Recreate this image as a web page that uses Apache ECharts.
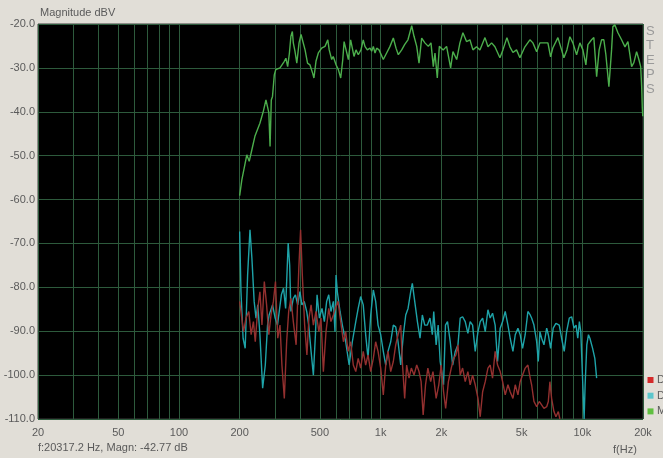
<!DOCTYPE html>
<html><head><meta charset="utf-8">
<script src="https://cdn.jsdelivr.net/npm/echarts@6/dist/echarts.min.js"></script>
<style>html,body{margin:0;padding:0;background:#e1ded7;overflow:hidden}#c{width:663px;height:458px}</style>
</head><body><div id="c"></div>
<script>
// ---- data ----
const xLabelFreqs = [20, 50, 100, 200, 500, 1000, 2000, 5000, 10000, 20000];
const xGridFreqs = [20, 30, 40, 50, 60, 70, 80, 90, 100, 200, 300, 400, 500, 600, 700, 800, 900,
  1000, 2000, 3000, 4000, 5000, 6000, 7000, 8000, 9000, 10000, 20000];
const yMin = -110, yMax = -20, yStep = 10;

const magFreq = [200,205,217,223,229,238,252,262,270,275,279,283,287,291,297,302,317,333,339,346,
  353,359,365,369,376,384,394,403,411,422,434,446,460,467,478,491,510,530,547,556,
  572,582,601,617,634,649,659,674,692,710,721,738,755,775,799,820,836,859,886,903,
  920,938,956,982,1001,1031,1071,1113,1156,1192,1224,1272,1315,1366,1426,1464,1510,1550,1598,1658,
  1724,1777,1825,1860,1910,1955,2043,2124,2224,2284,2383,2473,2559,2667,2772,2869,2990,3107,3292,3407,
  3551,3688,3904,4040,4229,4376,4530,4720,4905,5194,5498,5690,5938,6163,6525,6753,6964,7151,7570,7895,
  8106,8388,8680,8982,9370,9729,10070,10420,10660,11120,11410,11780,12120,12460,12790,13090,13550,13970,14180,14510,
  15020,15660,16280,16840,17220,17560,18020,18590,19080,19480,19700,19840,19950];
const magDb = [-59.1,-55.5,-49.8,-51.3,-49.0,-45.6,-42.6,-39.9,-37.3,-36.9,-40.2,-47.9,-37.3,-36.5,-31.6,-30.4,-30.0,-28.5,-27.8,-29.7,
  -26.6,-22.8,-21.7,-24.3,-26.2,-28.9,-24.3,-22.4,-22.8,-25.9,-28.9,-29.3,-31.2,-32.3,-28.5,-26.6,-25.5,-25.1,-23.6,-25.9,
  -28.1,-27.4,-29.3,-30.4,-32.3,-28.1,-24.0,-25.9,-28.1,-23.6,-23.2,-27.4,-25.9,-27.0,-25.9,-23.6,-25.1,-25.9,-25.5,-26.2,
  -25.1,-26.6,-25.5,-25.9,-26.2,-28.1,-26.6,-25.1,-23.2,-25.5,-27.0,-25.9,-24.7,-23.6,-20.4,-22.8,-25.1,-28.9,-23.2,-24.3,
  -25.1,-24.3,-29.7,-26.6,-32.3,-25.1,-25.9,-25.1,-30.0,-26.3,-28.1,-24.3,-22.0,-24.0,-23.6,-25.9,-25.2,-25.9,-23.1,-25.2,
  -24.3,-25.2,-27.7,-25.9,-23.1,-25.2,-26.5,-25.9,-27.7,-25.2,-23.6,-24.3,-26.3,-24.3,-24.3,-24.3,-27.5,-25.4,-23.1,-25.9,
  -27.7,-25.9,-22.9,-24.3,-27.0,-24.3,-25.9,-29.3,-24.7,-23.6,-23.1,-32.0,-25.9,-23.6,-23.6,-27.0,-34.3,-25.9,-20.6,-20.2,
  -22.0,-23.6,-25.2,-24.0,-27.0,-29.7,-28.8,-26.3,-28.1,-29.7,-34.3,-39.1,-41.0];

const cyanFreq = [200,203,208,213,219,225,230,236,241,246,252,260,268,275,280,291,300,308,322,330,
  338,348,354,359,369,378,388,398,407,418,430,440,452,464,475,484,497,512,526,540,
  553,567,583,594,601,610,629,646,671,698,724,753,774,796,820,843,866,893,920,945,
  971,1001,1031,1060,1088,1122,1156,1188,1220,1258,1296,1332,1368,1410,1436,1476,1522,1568,1610,1655,
  1705,1757,1805,1834,1885,1929,1974,2051,2097,2146,2214,2276,2345,2418,2481,2550,2627,2708,2780,2858,
  2945,3039,3118,3205,3302,3405,3493,3589,3697,3800,3917,4026,4148,4279,4389,4530,4651,4796,4920,5057,
  5210,5373,5517,5606,5758,5940,6050,6163,6284,6455,6660,6785,6964,7175,7401,7686,7895,8136,8362,8620,
  8859,9100,9313,9497,9673,9830,10060,10210,10330,10530,10730,10906,11250,11540,11780];
const cyanDb = [-67.3,-81.0,-91.6,-93.9,-77.2,-66.9,-73.4,-83.2,-87.0,-84.0,-90.8,-103.0,-97.7,-88.6,-86.3,-84.0,-87.0,-88.6,-81.7,-80.2,
  -84.8,-69.9,-74.9,-85.5,-82.5,-81.7,-84.0,-81.0,-84.0,-83.2,-85.5,-88.6,-94.6,-100.0,-90.8,-81.7,-87.0,-84.8,-87.8,-83.2,
  -81.7,-85.5,-83.2,-90.1,-77.2,-81.0,-85.5,-88.6,-92.4,-97.7,-92.4,-87.8,-84.8,-82.1,-84.0,-90.8,-96.2,-86.3,-80.6,-83.2,
  -88.6,-90.8,-94.6,-97.7,-94.6,-92.4,-88.6,-89.0,-92.4,-97.7,-90.8,-86.3,-84.8,-81.0,-79.1,-83.2,-87.8,-91.6,-86.3,-88.6,
  -88.6,-87.0,-90.8,-85.5,-93.1,-88.6,-96.9,-102.2,-88.6,-87.8,-92.4,-97.7,-94.6,-93.1,-87.0,-86.7,-87.8,-90.5,-87.8,-88.6,
  -94.6,-90.1,-87.8,-87.0,-90.1,-85.1,-87.0,-85.9,-88.6,-96.9,-89.3,-87.8,-85.5,-88.6,-91.6,-94.6,-90.8,-89.3,-90.8,-93.9,
  -90.8,-85.5,-86.3,-87.0,-88.6,-92.4,-96.9,-90.1,-91.6,-93.1,-89.3,-90.8,-93.9,-89.3,-88.2,-88.6,-91.6,-94.6,-90.1,-87.0,
  -86.7,-89.3,-88.6,-91.6,-87.8,-90.1,-102.2,-110.0,-102.2,-93.1,-90.8,-91.6,-93.9,-96.2,-100.7];

const redFreq = [200,209,215,222,228,234,239,246,252,258,265,272,279,286,294,301,309,317,324,333,
  342,350,359,369,381,393,401,409,420,431,441,452,464,478,494,506,520,536,553,567,
  583,596,615,634,654,671,690,710,732,753,774,796,820,843,866,893,920,945,971,1001,
  1031,1060,1088,1122,1156,1188,1220,1258,1281,1316,1346,1383,1420,1464,1510,1550,1588,1625,1670,1715,
  1771,1818,1885,1943,1997,2052,2101,2168,2240,2303,2364,2418,2481,2550,2627,2708,2780,2858,2945,3039,
  3118,3205,3302,3405,3493,3589,3697,3800,3917,4026,4148,4279,4389,4530,4651,4796,4920,5057,5210,5373,
  5517,5606,5758,5940,6118,6284,6455,6660,6785,6908,7044,7236,7401,7607,7743];
const redDb = [-83.2,-90.1,-87.0,-85.5,-90.8,-87.8,-92.4,-84.8,-81.0,-88.6,-78.7,-84.0,-90.8,-86.3,-83.2,-78.7,-91.6,-88.6,-97.7,-105.3,
  -92.4,-85.5,-82.5,-87.8,-93.1,-75.6,-66.9,-77.2,-88.6,-95.4,-87.0,-84.0,-88.6,-85.5,-90.1,-87.0,-99.2,-90.1,-84.8,-87.8,
  -86.3,-84.8,-83.2,-87.8,-92.4,-90.1,-94.6,-92.4,-97.7,-99.2,-96.2,-98.4,-94.6,-97.7,-95.4,-99.2,-96.2,-92.4,-94.6,-98.4,
  -104.5,-97.7,-94.6,-99.2,-96.9,-93.1,-90.8,-88.6,-96.9,-105.3,-97.7,-100.7,-98.4,-100.0,-97.7,-99.2,-101.5,-109.1,-102.2,-98.4,
  -101.5,-99.2,-105.3,-102.2,-97.7,-103.8,-107.6,-101.5,-98.4,-96.2,-95.4,-93.1,-100.0,-98.4,-101.5,-99.2,-102.2,-100.0,-102.2,-105.3,
  -109.5,-103.8,-101.5,-98.4,-97.7,-100.7,-94.6,-97.7,-99.2,-101.5,-104.5,-102.2,-103.8,-105.3,-102.2,-104.5,-101.5,-100.0,-98.4,-97.7,
  -100.7,-102.2,-106.0,-107.2,-106.0,-106.8,-107.6,-107.2,-106.0,-101.5,-105.3,-108.3,-109.5,-108.3,-110.0];

const seriesNames = ['D2', 'D3', 'Magnitude'];
const legendColors = ['#d42a2a', '#5cc6cc', '#5fbf3f'];
const titleText = 'Magnitude dBV';
const statusText = 'f:20317.2 Hz, Magn: -42.77 dB';
const xUnitText = 'f(Hz)';
const sideText = 'STEPS';

// ---- chart ----
const lg = v => Math.log10(v);
const toPairs = (fs, ds) => fs.map((f, i) => [lg(f), ds[i]]);
const fmtFreq = v => {
  const f = Math.round(Math.pow(10, v));
  return f >= 1000 ? (f / 1000) + 'k' : String(f);
};
const FONT = '"Liberation Sans", Arial, sans-serif';
const TXT = '#5a5a5a';
const GRID = '#2d5a3c';

const legendGraphics = [];
seriesNames.forEach((n, i) => {
  const cy = 380 + i * 15.7;
  legendGraphics.push({type: 'rect', shape: {x: 647.5, y: cy - 3, width: 6, height: 6}, style: {fill: legendColors[i]}, silent: true});
  legendGraphics.push({type: 'text', x: 657, y: cy, style: {text: n, fill: TXT, font: '11px ' + FONT, verticalAlign: 'middle', align: 'left'}, silent: true});
});

const chart = echarts.init(document.getElementById('c'), null, {renderer: 'canvas'});
chart.setOption({
  animation: false,
  backgroundColor: '#e1ded7',
  grid: {left: 38, top: 24, right: 20, bottom: 39, show: true, backgroundColor: '#000', borderColor: '#3c3c3c', borderWidth: 1, containLabel: false},
  xAxis: {
    type: 'value', min: lg(20), max: lg(20000),
    axisLine: {show: false},
    axisTick: {show: false, customValues: xGridFreqs.map(lg)},
    axisLabel: {customValues: xLabelFreqs.map(lg), formatter: fmtFreq, color: TXT, fontSize: 11, fontFamily: FONT, margin: 8},
    splitLine: {show: true, lineStyle: {color: GRID, width: 1}}
  },
  yAxis: {
    type: 'value', min: yMin, max: yMax, interval: yStep,
    axisLine: {show: false}, axisTick: {show: false},
    axisLabel: {formatter: v => v.toFixed(1), color: TXT, fontSize: 11, fontFamily: FONT, margin: 3},
    splitLine: {show: true, lineStyle: {color: GRID, width: 1}}
  },
  series: [
    {name: seriesNames[1], type: 'line', data: toPairs(cyanFreq, cyanDb), showSymbol: false, silent: true,
      lineStyle: {width: 1.4, color: '#1ea3a8'}, z: 2},
    {name: seriesNames[0], type: 'line', data: toPairs(redFreq, redDb), showSymbol: false, silent: true,
      lineStyle: {width: 1.4, color: '#93302f'}, z: 3},
    {name: seriesNames[2], type: 'line', data: toPairs(magFreq, magDb), showSymbol: false, silent: true,
      lineStyle: {width: 1.4, color: '#4cae4c'}, z: 4}
  ],
  graphic: [
    {type: 'text', left: 40, top: 7, style: {text: titleText, fill: TXT, font: '11px ' + FONT}},
    {type: 'text', left: 38, top: 442, style: {text: statusText, fill: TXT, font: '11px ' + FONT}},
    {type: 'text', left: 613, top: 444, style: {text: xUnitText, fill: TXT, font: '11px ' + FONT}},
    {type: 'text', left: 646, top: 24, style: {text: sideText.split('').join('\n'), fill: '#9a9a9a', font: '13px ' + FONT, lineHeight: 14.5, align: 'left'}}
  ].concat(legendGraphics)
});
</script>
</body></html>
